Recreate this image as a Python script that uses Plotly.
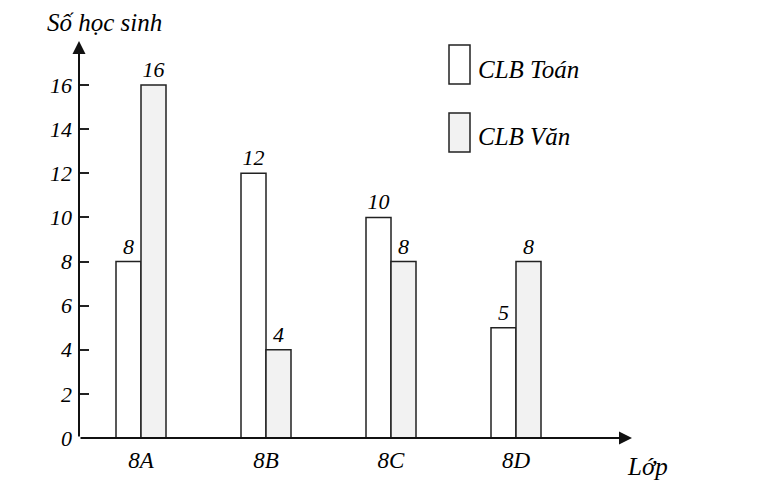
import plotly.graph_objects as go

classes = ["8A", "8B", "8C", "8D"]
toan = [8, 12, 10, 5]
van = [16, 4, 8, 8]
series_names = ["CLB Toán", "CLB Văn"]
y_ticks = [0, 2, 4, 6, 8, 10, 12, 14, 16]
y_title = "Số học sinh"
x_title = "Lớp"

FONT = "Liberation Serif"
EDGE = "#222222"
TXT = "#000000"

# plot area geometry (pixels)
W, H = 763, 485
L, R = 79, 632
T, B = 41, 438
unit = 125.0
c0 = 141.0
x0 = (L - c0) / unit
x1 = (R - c0) / unit
ymax = 18

fig = go.Figure()
fig.add_trace(go.Bar(
    x=classes, y=toan, name=series_names[0],
    marker=dict(color="white", line=dict(color=EDGE, width=1.5)),
    text=[str(v) for v in toan], textposition="outside",
    textfont=dict(family=FONT, size=22, color=TXT, style="italic"),
    cliponaxis=False,
))
fig.add_trace(go.Bar(
    x=classes, y=van, name=series_names[1],
    marker=dict(color="#f2f2f2", line=dict(color=EDGE, width=1.5)),
    text=[str(v) for v in van], textposition="outside",
    textfont=dict(family=FONT, size=22, color=TXT, style="italic"),
    cliponaxis=False,
))

fig.update_layout(
    width=W, height=H,
    margin=dict(l=L, r=W - R, t=T, b=H - B, pad=0),
    paper_bgcolor="white", plot_bgcolor="white",
    barmode="group", bargap=0.6, bargroupgap=0,
    showlegend=False,
    font=dict(family=FONT, size=22, color=TXT, style="italic"),
    xaxis=dict(
        type="category", range=[x0, x1], showgrid=False, zeroline=False,
        showline=False, ticks="", ticklabelstandoff=6,
        tickfont=dict(family=FONT, size=23, color=TXT, style="italic"),
    ),
    yaxis=dict(
        range=[0, ymax], showgrid=False, zeroline=False, showline=False,
        tickvals=y_ticks, ticktext=[str(v) for v in y_ticks],
        ticks="inside", ticklen=10, tickwidth=1.5, tickcolor=EDGE,
        ticklabelstandoff=6,
        tickfont=dict(family=FONT, size=22, color=TXT, style="italic"),
    ),
)

# axes with arrowheads
fig.add_annotation(x=x0, y=ymax, ax=x0, ay=0, xref="x", yref="y",
                   axref="x", ayref="y", showarrow=True, arrowhead=2,
                   arrowsize=1.3, arrowwidth=2, arrowcolor="#111", text="")
fig.add_annotation(x=x1, y=0, ax=x0, ay=0, xref="x", yref="y",
                   axref="x", ayref="y", showarrow=True, arrowhead=2,
                   arrowsize=1.3, arrowwidth=2, arrowcolor="#111", text="")

# axis titles
fig.add_annotation(text=y_title, xref="paper", yref="paper",
                   x=(45 - L) / (R - L), y=(B - 23) / (B - T),
                   xanchor="left", yanchor="middle", showarrow=False,
                   font=dict(family=FONT, size=25, color=TXT, style="italic"))
fig.add_annotation(text=x_title, xref="paper", yref="paper",
                   x=(625 - L) / (R - L), y=(B - 466) / (B - T),
                   xanchor="left", yanchor="middle", showarrow=False,
                   font=dict(family=FONT, size=25, color=TXT, style="italic"))

# legend
def px_x(p):
    return (p - L) / (R - L)

def px_y(p):
    return (B - p) / (B - T)

leg = [(series_names[0], "white", 45, 84, 70), (series_names[1], "#f2f2f2", 113, 152, 136)]
for name, col, ytop, ybot, ytext in leg:
    fig.add_shape(type="rect", xref="paper", yref="paper",
                  x0=px_x(449), x1=px_x(470), y0=px_y(ybot), y1=px_y(ytop),
                  fillcolor=col, line=dict(color=EDGE, width=1.5))
    fig.add_annotation(text=name, xref="paper", yref="paper",
                       x=px_x(476), y=px_y(ytext), xanchor="left", yanchor="middle",
                       showarrow=False,
                       font=dict(family=FONT, size=25, color=TXT, style="italic"))

fig.write_html("out.html")
